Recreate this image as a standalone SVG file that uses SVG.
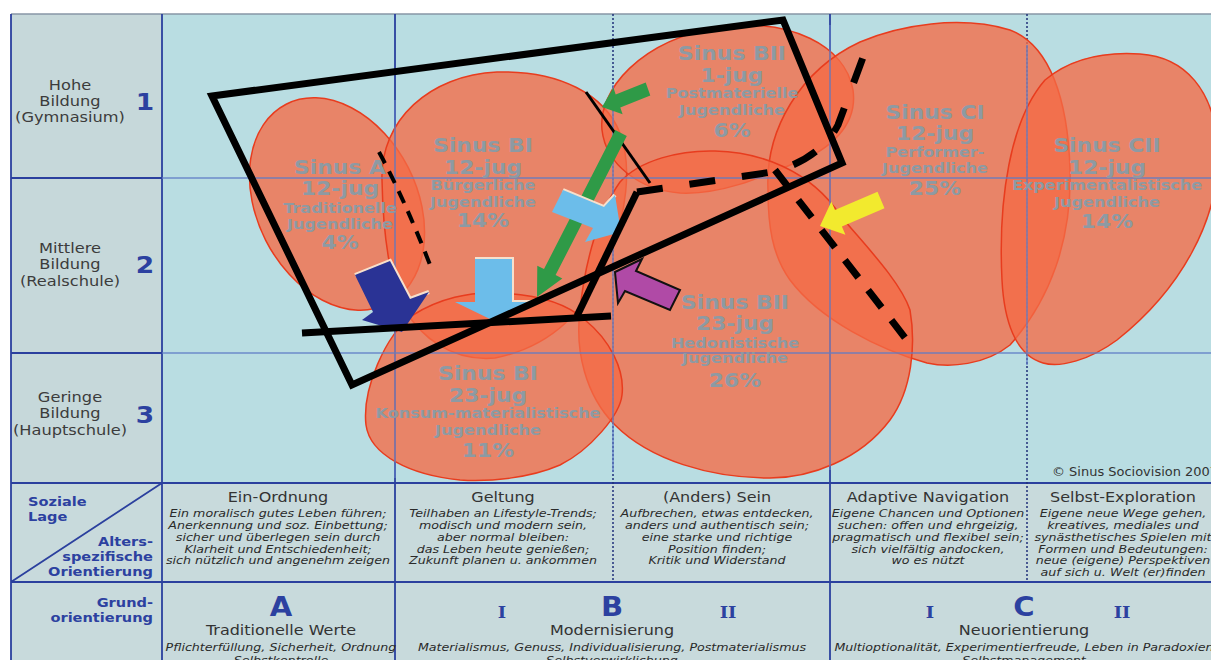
<svg xmlns="http://www.w3.org/2000/svg" width="1211" height="660" viewBox="0 0 1211 660">
<defs>
<style>
.bg{fill:#b9dde2}
.lc{fill:#c6d8da}
.tb{fill:#c8dadc}
.blob{fill:#f56a45;fill-opacity:.78;stroke:#e83c1e;stroke-width:1.5}
.grid{stroke:#2b409e;stroke-width:1.8;fill:none}
.gridl{stroke:#5e7dc6;stroke-width:1.5;fill:none;opacity:.85}
.dot{stroke:#1f2f7a;stroke-width:1.5;stroke-dasharray:2 2;fill:none}
.bk{stroke:#000;fill:none;stroke-width:7}
.dash{stroke:#000;fill:none;stroke-width:7;stroke-dasharray:26 27}
text{font-family:"DejaVu Sans",Verdana,sans-serif}
.bt{font-weight:bold;fill:#8d9aa3;text-anchor:middle}
.b1{font-size:19px}
.b2{font-size:14px}
.lab{font-size:14.5px;fill:#3c3c3c;text-anchor:middle}
.num{font-size:23px;font-weight:bold;fill:#2c41a0;text-anchor:middle}
.hd{font-size:14.3px;fill:#333;text-anchor:middle}
.it{font-size:11.3px;font-style:italic;fill:#2a2a2a;text-anchor:middle}
.nv{font-size:13px;font-weight:bold;fill:#2c41a0}
.big{font-size:26px;font-weight:bold;fill:#2c41a0;text-anchor:middle}
.rom{font-family:"DejaVu Serif",serif;font-size:16px;font-weight:bold;fill:#2c41a0;text-anchor:middle}
.cream{fill:none;stroke:#f7e0cc;stroke-width:4;stroke-linejoin:miter}
</style>
</defs>

<!-- backgrounds -->
<rect x="0" y="0" width="1211" height="660" fill="#ffffff"/>
<rect class="bg" x="162" y="14" width="1049" height="469"/>
<rect class="lc" x="11" y="14" width="151" height="469"/>
<rect class="tb" x="11" y="483" width="1200" height="177"/>

<!-- grid under blobs -->
<g id="grid">
<path d="M11,14 H1211" stroke="#8796a6" stroke-width="1.5"/>
<path class="grid" d="M11,14 V660 M162,14 V660 M395,14 V660 M830,14 V660 M11,178 H162 M11,353 H162 M11,582 L162,483"/>
<path class="grid" d="M11,483 H1211" stroke-width="2.5"/>
<path class="grid" d="M11,582 H1211" stroke-width="2"/>
<path class="dot" d="M613,14 V582 M1027,14 V582"/>
</g>

<!-- blobs -->
<g id="blobs">
<g id="sinus-a"><ellipse class="blob" cx="337" cy="204" rx="112" ry="80" transform="rotate(63 337 204)"/></g>
<g id="sinus-bi-12"><path class="blob" d="M382,180 C380,120 430,75 497,72 C560,70 605,95 620,133 C632,165 628,215 605,265 C590,300 560,345 495,358 C450,362 420,335 405,310 C388,280 383,230 382,180 Z"/></g>
<g id="sinus-bii-1"><path class="blob" d="M602,130 C598,90 640,40 720,27 C790,18 845,45 853,90 C858,125 830,150 795,163 C760,178 720,195 680,193 C640,190 606,165 602,130 Z"/></g>
<g id="sinus-ci"><path class="blob" d="M768,190 C765,130 800,70 860,42 C900,25 960,15 1010,30 C1050,45 1068,100 1070,170 C1072,240 1050,300 1010,345 C985,365 950,368 927,363 C880,350 820,320 790,280 C772,255 768,225 768,190 Z"/></g>
<g id="sinus-cii"><path class="blob" d="M1002,280 C998,200 1010,120 1045,80 C1075,55 1110,52 1140,54 C1185,57 1215,90 1218,150 C1220,220 1180,290 1117,340 C1090,360 1060,368 1043,363 C1015,355 1004,320 1002,280 Z"/></g>
<g id="sinus-bii-23"><path class="blob" d="M620,182 C640,160 680,150 715,151 C760,152 810,170 840,215 C860,240 900,280 910,310 C916,345 912,390 890,420 C860,460 810,478 770,478 C710,478 650,460 615,425 C585,395 575,350 580,310 C585,260 600,210 620,182 Z"/></g>
<g id="sinus-bi-23"><path class="blob" d="M413,315 C440,298 470,292 495,293 C535,294 565,302 585,320 C610,340 625,370 622,395 C620,415 590,450 560,465 C530,478 490,482 460,480 C410,475 370,455 366,425 C362,390 385,335 413,315 Z"/></g>
</g>

<!-- grid over blobs -->
<g id="grid-over">
<path class="gridl" d="M162,178 H1211 M162,353 H1211 M395,100 V478 M830,25 V470 M613,85 V472 M1027,45 V365"/>
</g>

<!-- blob labels -->
<g id="labels-blobs">
<g transform="translate(340 0) scale(1.15 1)"><text class="bt b1" x="0" y="174">Sinus A</text><text class="bt b1" x="0" y="195">12-jug</text><text class="bt b2" x="0" y="213">Traditionelle</text><text class="bt b2" x="0" y="229">Jugendliche</text><text class="bt b1" x="0" y="249">4%</text></g>
<g transform="translate(483 0) scale(1.15 1)"><text class="bt b1" x="0" y="152">Sinus BI</text><text class="bt b1" x="0" y="174">12-jug</text><text class="bt b2" x="0" y="190">Bürgerliche</text><text class="bt b2" x="0" y="207">Jugendliche</text><text class="bt b1" x="0" y="227">14%</text></g>
<g transform="translate(732 0) scale(1.15 1)"><text class="bt b1" x="0" y="60">Sinus BII</text><text class="bt b1" x="0" y="82">1-jug</text><text class="bt b2" x="0" y="98">Postmaterielle</text><text class="bt b2" x="0" y="115">Jugendliche</text><text class="bt b1" x="0" y="137">6%</text></g>
<g transform="translate(935 0) scale(1.15 1)"><text class="bt b1" x="0" y="119">Sinus CI</text><text class="bt b1" x="0" y="140">12-jug</text><text class="bt b2" x="0" y="157">Performer-</text><text class="bt b2" x="0" y="173">Jugendliche</text><text class="bt b1" x="0" y="195">25%</text></g>
<g transform="translate(1107 0) scale(1.15 1)"><text class="bt b1" x="0" y="152">Sinus CII</text><text class="bt b1" x="0" y="174">12-jug</text><text class="bt b2" x="0" y="190">Experimentalistische</text><text class="bt b2" x="0" y="207">Jugendliche</text><text class="bt b1" x="0" y="228">14%</text></g>
<g transform="translate(735 0) scale(1.15 1)"><text class="bt b1" x="0" y="309">Sinus BII</text><text class="bt b1" x="0" y="330">23-jug</text><text class="bt b2" x="0" y="348">Hedonistische</text><text class="bt b2" x="0" y="363">Jugendliche</text><text class="bt b1" x="0" y="387">26%</text></g>
<g transform="translate(488 0) scale(1.15 1)"><text class="bt b1" x="0" y="380">Sinus BI</text><text class="bt b1" x="0" y="402">23-jug</text><text class="bt b2" x="0" y="418">Konsum-materialistische</text><text class="bt b2" x="0" y="435">Jugendliche</text><text class="bt b1" x="0" y="457">11%</text></g>
</g>

<!-- connectors / overlays -->
<g id="connectors">
<path d="M586,92 L650,183" stroke="#000" stroke-width="3" fill="none"/>
<path d="M379,152 Q405,200 432,270" stroke="#000" stroke-width="4" fill="none" stroke-dasharray="13 9"/>

<!-- arrows -->
<polygon points="615.2,130 626.8,136 555.6,275.1 562.3,278.5 537,297 537.3,265.7 544,269.1" fill="#2f9a47"/>
<polygon points="645.7,82.4 615.7,94.4 613.4,87.8 602,107 622.6,114.2 620.3,107.6 650.3,95.6" fill="#2f9a47"/>
<polyline class="cream" points="563,190 604,207 615,195"/>
<polygon points="552,212 563,190 604,207 615,195 621,232 585,242 593,228" fill="#6cbdea"/>
<polyline class="cream" points="475,259 512,259 512,302 532,302"/>
<polygon points="475,259 512,259 512,302 532,302 492,320 455,302 475,302" fill="#6cbdea"/>
<polyline class="cream" points="355,275 390,261 410,299 429,292"/>
<polygon points="355,275 390,261 410,299 429,292 402,332 362,320 373,312" fill="#2a3395"/>
<polygon points="615,272 642,259 636,271 680,290 670,310 625,291 618,303" fill="#b04aa6" stroke="#111" stroke-width="2" stroke-linejoin="miter"/>
<polygon points="820,226 831.4,201.6 834.9,209.9 877.5,191.7 884.5,208.3 841.9,226.5 845.4,234.8" fill="#f2ea2e"/>

<!-- black boundary lines -->
<polygon class="bk" points="212,96 783,20 842,163 352,385" stroke-linejoin="miter"/>
<path class="bk" d="M302,333 L611,316" stroke-width="8"/>
<path class="bk" d="M577,316 L637,192"/>
<path class="dash" d="M637,192 L772,172 C800,165 825,150 838,125 L865,52"/>
<path class="bk" d="M775,170 L913,348" stroke-width="6" stroke-dasharray="22 16"/>
</g>

<!-- left axis labels -->
<g id="axis-bildung">
<g transform="translate(70 0) scale(1.12 1)"><text class="lab" x="0" y="90">Hohe</text><text class="lab" x="0" y="106">Bildung</text><text class="lab" x="0" y="122">(Gymnasium)</text>
<text class="lab" x="0" y="253">Mittlere</text><text class="lab" x="0" y="269">Bildung</text><text class="lab" x="0" y="286">(Realschule)</text>
<text class="lab" x="0" y="402">Geringe</text><text class="lab" x="0" y="418">Bildung</text><text class="lab" x="0" y="435">(Hauptschule)</text></g>
<g transform="translate(145 0) scale(1.15 1)"><text class="num" x="0" y="110">1</text><text class="num" x="0" y="273">2</text><text class="num" x="0" y="423">3</text></g>
</g>

<g id="copyright" transform="translate(1052 0) scale(1.12 1)"><text x="0" y="476" font-size="11.6" fill="#333">© Sinus Sociovision 2007</text></g>

<!-- bottom table -->
<g id="table-left">
<g transform="translate(28 0) scale(1.12 1)"><text class="nv" x="0" y="506">Soziale</text><text class="nv" x="0" y="521">Lage</text></g>
<g transform="translate(153 0) scale(1.12 1)"><text class="nv" x="0" y="546" text-anchor="end">Alters-</text><text class="nv" x="0" y="561" text-anchor="end">spezifische</text><text class="nv" x="0" y="576" text-anchor="end">Orientierung</text>
<text class="nv" x="0" y="607" text-anchor="end">Grund-</text><text class="nv" x="0" y="622" text-anchor="end">orientierung</text></g>
</g>

<g id="col-ein-ordnung" transform="translate(278 0) scale(1.12 1)">
<text class="hd" x="0" y="502">Ein-Ordnung</text>
<text class="it" x="0" y="517.5">Ein moralisch gutes Leben führen;</text>
<text class="it" x="0" y="529.2">Anerkennung und soz. Einbettung;</text>
<text class="it" x="0" y="540.9">sicher und überlegen sein durch</text>
<text class="it" x="0" y="552.6">Klarheit und Entschiedenheit;</text>
<text class="it" x="0" y="564.3">sich nützlich und angenehm zeigen</text>
</g>
<g id="col-geltung" transform="translate(503 0) scale(1.12 1)">
<text class="hd" x="0" y="502">Geltung</text>
<text class="it" x="0" y="517.5">Teilhaben an Lifestyle-Trends;</text>
<text class="it" x="0" y="529.2">modisch und modern sein,</text>
<text class="it" x="0" y="540.9">aber normal bleiben:</text>
<text class="it" x="0" y="552.6">das Leben heute genießen;</text>
<text class="it" x="0" y="564.3">Zukunft planen u. ankommen</text>
</g>
<g id="col-anders-sein" transform="translate(717 0) scale(1.12 1)">
<text class="hd" x="0" y="502">(Anders) Sein</text>
<text class="it" x="0" y="517.5">Aufbrechen, etwas entdecken,</text>
<text class="it" x="0" y="529.2">anders und authentisch sein;</text>
<text class="it" x="0" y="540.9">eine starke und richtige</text>
<text class="it" x="0" y="552.6">Position finden;</text>
<text class="it" x="0" y="564.3">Kritik und Widerstand</text>
</g>
<g id="col-adaptive" transform="translate(928 0) scale(1.12 1)">
<text class="hd" x="0" y="502">Adaptive Navigation</text>
<text class="it" x="0" y="517.5">Eigene Chancen und Optionen</text>
<text class="it" x="0" y="529.2">suchen: offen und ehrgeizig,</text>
<text class="it" x="0" y="540.9">pragmatisch und flexibel sein;</text>
<text class="it" x="0" y="552.6">sich vielfältig andocken,</text>
<text class="it" x="0" y="564.3">wo es nützt</text>
</g>
<g id="col-selbst" transform="translate(1123 0) scale(1.12 1)">
<text class="hd" x="0" y="502">Selbst-Exploration</text>
<text class="it" x="0" y="517.5">Eigene neue Wege gehen,</text>
<text class="it" x="0" y="529.2">kreatives, mediales und</text>
<text class="it" x="0" y="540.9">synästhetisches Spielen mit</text>
<text class="it" x="0" y="552.6">Formen und Bedeutungen:</text>
<text class="it" x="0" y="564.3">neue (eigene) Perspektiven</text>
<text class="it" x="0" y="576">auf sich u. Welt (er)finden</text>
</g>

<g id="grund-a" transform="translate(281 0) scale(1.12 1)">
<text class="big" x="0" y="616">A</text>
<text class="hd" x="0" y="635">Traditionelle Werte</text>
<text class="it" x="0" y="651">Pflichterfüllung, Sicherheit, Ordnung</text>
<text class="it" x="0" y="664">Selbstkontrolle</text>
</g>
<g id="grund-b">
<g transform="translate(612 0) scale(1.12 1)">
<text class="big" x="0" y="616">B</text>
<text class="hd" x="0" y="635">Modernisierung</text>
<text class="it" x="0" y="651">Materialismus, Genuss, Individualisierung, Postmaterialismus</text>
<text class="it" x="0" y="664">Selbstverwirklichung</text>
</g>
<g transform="translate(502 0) scale(1.12 1)"><text class="rom" x="0" y="618">I</text></g>
<g transform="translate(728 0) scale(1.12 1)"><text class="rom" x="0" y="618">II</text></g>
</g>
<g id="grund-c">
<g transform="translate(1024 0) scale(1.12 1)">
<text class="big" x="0" y="616">C</text>
<text class="hd" x="0" y="635">Neuorientierung</text>
<text class="it" x="0" y="651">Multioptionalität, Experimentierfreude, Leben in Paradoxien</text>
<text class="it" x="0" y="664">Selbstmanagement</text>
</g>
<g transform="translate(930 0) scale(1.12 1)"><text class="rom" x="0" y="618">I</text></g>
<g transform="translate(1122 0) scale(1.12 1)"><text class="rom" x="0" y="618">II</text></g>
</g>
</svg>
